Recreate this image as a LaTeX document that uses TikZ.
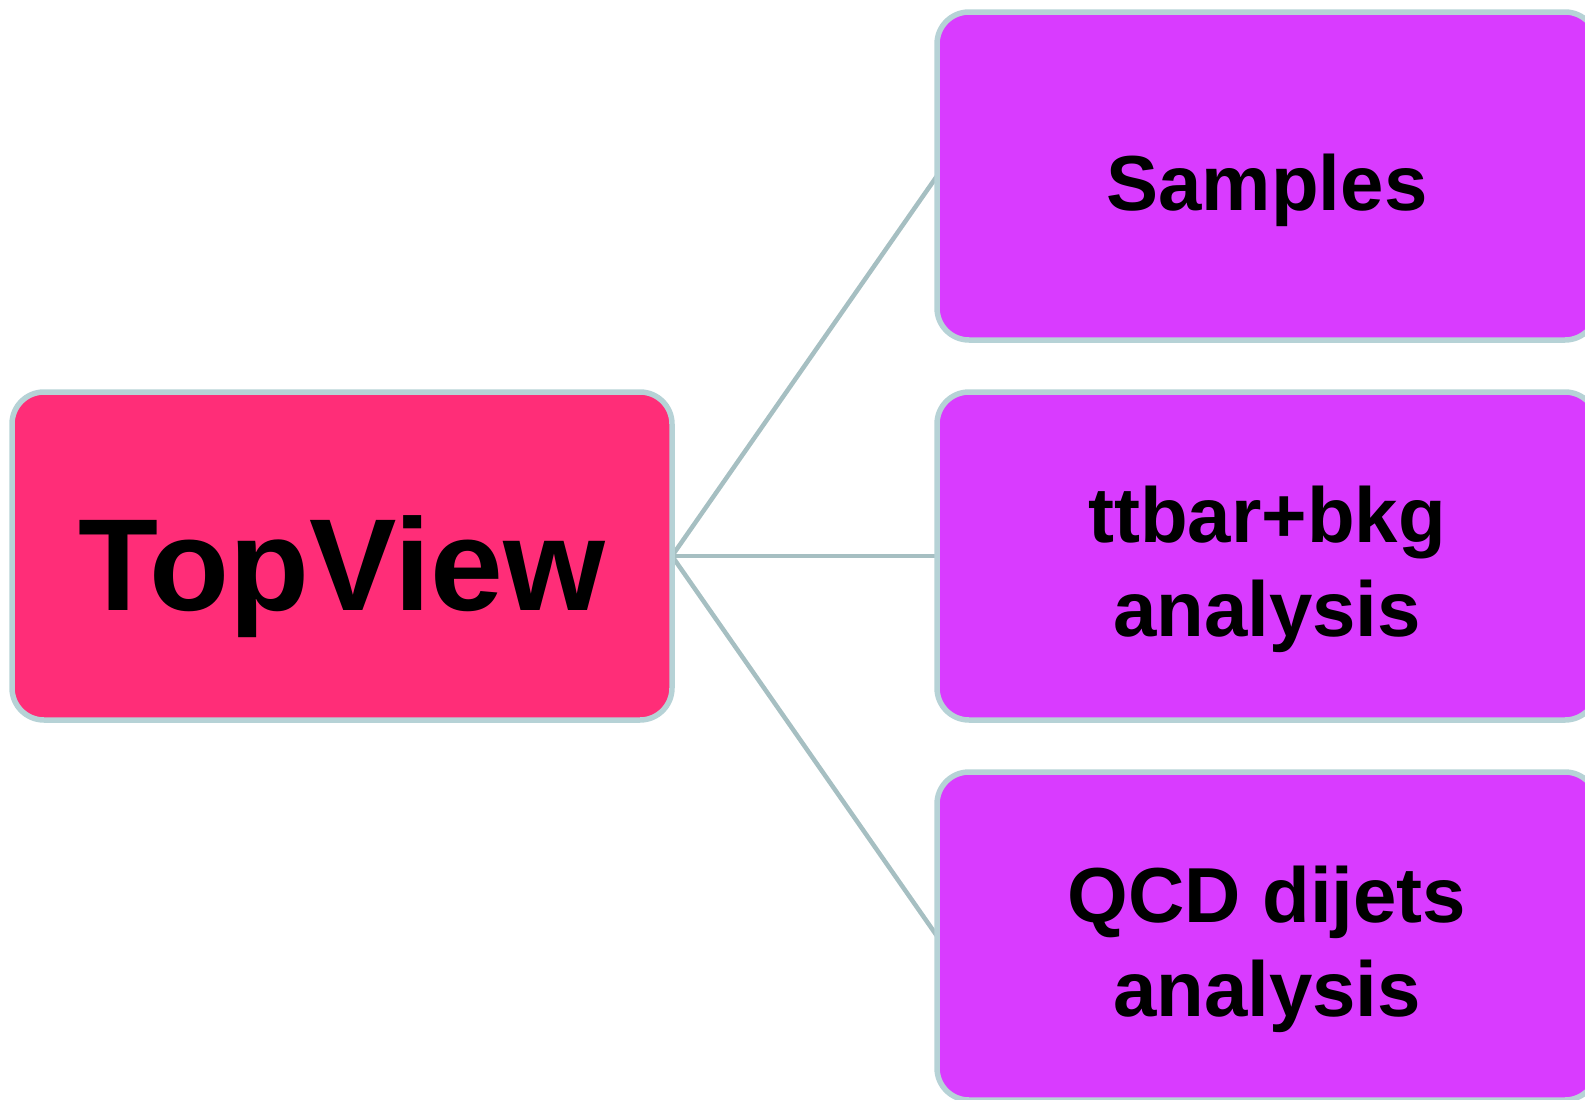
\documentclass[tikz,border=0pt]{standalone}
\usepackage{fontspec}
\setmainfont{Liberation Sans}
\usetikzlibrary{backgrounds}

\definecolor{rootfill}{HTML}{FF2D78}
\definecolor{leaffill}{HTML}{D93BFF}
\definecolor{boxedge}{HTML}{B6D2D6}
\definecolor{linkcol}{HTML}{A6BFC2}

\tikzset{
  box/.style={draw=boxedge, line width=5.5pt, rounded corners=32pt,
    minimum width=660pt, minimum height=328pt, inner sep=0pt, outer sep=0pt},
  rootbox/.style={box, fill=rootfill},
  leafbox/.style={box, fill=leaffill},
  link/.style={draw=linkcol, line width=4.5pt},
  bigtxt/.style={anchor=base, inner sep=0pt, font=\fontsize{131}{150}\selectfont\bfseries},
  txt/.style={anchor=base, inner sep=0pt, font=\fontsize{78}{94}\selectfont\bfseries},
}

\begin{document}
\begin{tikzpicture}[x=1pt, y=-1pt]
\useasboundingbox (0,0) rectangle (1585,1100);
\clip (0,0) rectangle (1585,1100);

% boxes
\node[rootbox] (tv) at (342,556) {};
\node[leafbox] (s)  at (1267,176) {};
\node[leafbox] (tt) at (1267,556) {};
\node[leafbox] (q)  at (1267,936) {};

% labels
\node[bigtxt] (tv-l) at ([yshift=-54pt]tv.center) {TopView};
\node[txt] (s-l)  at ([yshift=-34pt]s.center) {Samples};
\node[txt] (tt-l1) at ([yshift=14pt]tt.center) {ttbar+bkg};
\node[txt] (tt-l2) at ([yshift=-80pt]tt.center) {analysis};
\node[txt] (q-l1) at ([yshift=14pt]q.center) {QCD dijets};
\node[txt] (q-l2) at ([yshift=-80pt]q.center) {analysis};

% connectors behind the boxes
\begin{pgfonlayer}{background}
  \draw[link] (tv.east) -- (s.west);
  \draw[link] (tv.east) -- (tt.west);
  \draw[link] (tv.east) -- (q.west);
\end{pgfonlayer}
\end{tikzpicture}
\end{document}
